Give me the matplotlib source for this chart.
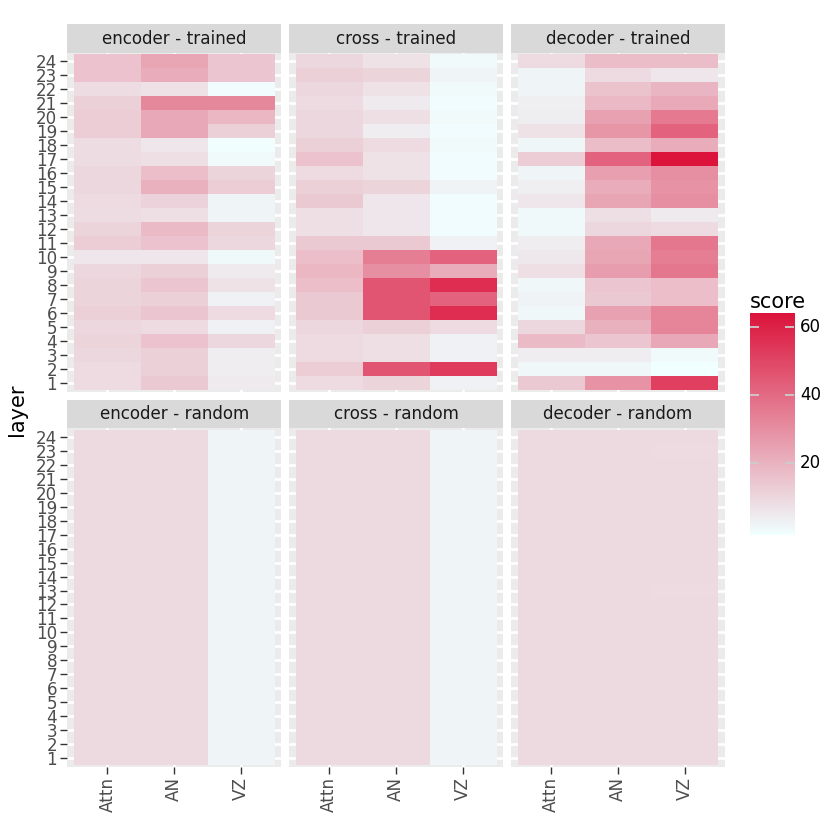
import numpy as np
import matplotlib
matplotlib.use("Agg")
import matplotlib.pyplot as plt
from matplotlib.colors import LinearSegmentedColormap

# ---------------- data ----------------
layers = list(range(1, 25))
features = ["Attn", "AN", "VZ"]
panel_titles = ["encoder - trained", "cross - trained", "decoder - trained",
                "encoder - random", "cross - random", "decoder - random"]

# values listed from layer 1 to layer 24
enc_tr_attn = [9, 9, 10, 11, 10, 12, 11, 11, 10, 6, 13, 11, 8.5, 9, 10, 10, 8.5, 8.5, 13, 13, 12, 8.5, 16, 16]
enc_tr_an   = [14, 12, 12, 16, 9, 15, 12, 15, 12, 6, 16, 18, 8, 11.5, 21, 17, 8, 6, 23, 23, 32, 7, 22, 24]
enc_tr_vz   = [5, 4, 4, 10, 3, 9, 3, 7, 5, 1, 10, 11, 2, 2, 13, 11, 0.5, -0.5, 12, 19, 32, 0, 15, 15]

cro_tr_attn = [9, 13, 9, 9, 10, 14, 14, 17, 19, 17, 14, 8, 8, 14, 12, 9, 16, 12, 10, 10, 9, 10, 12, 10]
cro_tr_an   = [11, 46, 8, 8, 12, 46, 46, 46, 30, 35, 14, 6, 6, 6, 11, 7, 7, 9, 4, 8, 5, 7, 11, 7]
cro_tr_vz   = [3, 53, 3, 3, 9, 57, 42, 57, 22, 42, 3, 0, 0, 0, 2.5, 0, 0, 0.5, 0, 0.5, 0, 0.5, 2, 0.5]

dec_tr_attn = [14, 1.5, 4, 18, 10, 1.5, 2.5, 1.5, 8, 5.5, 4, 1, 1, 6, 3.4, 2, 13, 1.6, 7, 4.3, 3.4, 2, 2, 9]
dec_tr_an   = [29, 1.5, 4, 15, 21, 25, 14, 15, 26, 24, 23, 10, 8, 24, 22, 25.5, 42, 17.5, 28, 25, 18.5, 15.6, 9, 17.5]
dec_tr_vz   = [52, -1, 0.5, 23, 33, 33, 17, 17, 37, 35, 37, 9, 5, 30, 29, 30, 64, 22, 42, 36, 22.8, 19.5, 6, 17.5]

enc_rd_attn = [9.5] * 24
enc_rd_an   = [9.5] * 24
enc_rd_vz   = [2] * 24

cro_rd_attn = [9.5] * 24
cro_rd_an   = [9.5] * 24
cro_rd_vz   = [2] * 24

dec_rd_attn = [9.5] * 24
dec_rd_an   = [9.5] * 24
dec_rd_vz   = [9.5, 9.5, 9.5, 9.5, 9.5, 9.5, 9.5, 9.5, 9.5, 9.5, 9.5, 9.5, 9, 9.5, 9.5, 9.5,
               9.5, 9.5, 9.5, 9.5, 9.5, 9.5, 9, 9.5]

panels = [
    [enc_tr_attn, enc_tr_an, enc_tr_vz],
    [cro_tr_attn, cro_tr_an, cro_tr_vz],
    [dec_tr_attn, dec_tr_an, dec_tr_vz],
    [enc_rd_attn, enc_rd_an, enc_rd_vz],
    [cro_rd_attn, cro_rd_an, cro_rd_vz],
    [dec_rd_attn, dec_rd_an, dec_rd_vz],
]

# ---------------- colour scale ----------------
cmap = LinearSegmentedColormap.from_list("azure_crimson", ["#F0FFFF", "#DC143C"], N=256)

allv = np.concatenate([np.ravel(p) for p in panels])
vmin, vmax = allv.min(), allv.max()

# ---------------- figure ----------------
W = H = 830
fig = plt.figure(figsize=(8.3, 8.3), dpi=100)


def px_axes(x0, y0, x1, y1):
    return fig.add_axes([x0 / W, 1 - y1 / H, (x1 - x0) / W, (y1 - y0) / H])


col_x = [67.3, 289.2, 511.0]
pw = 214.0
rows = [(24.3, 52.7, 391.7), (400.0, 428.3, 766.7)]

xe = np.arange(0.5, 3.6, 1.0)
ye = np.arange(0.5, 24.6, 1.0)

for i, (title, pdata) in enumerate(zip(panel_titles, panels)):
    r, c = divmod(i, 3)
    st, pt, pb = rows[r]
    x0 = col_x[c]
    # strip
    sax = px_axes(x0, st, x0 + pw, pt)
    sax.set_facecolor("#D9D9D9")
    sax.set_xticks([]); sax.set_yticks([])
    for s in sax.spines.values():
        s.set_visible(False)
    sax.text(0.5, 0.5, title, ha="center", va="center", fontsize=12.1,
             color="#1A1A1A", transform=sax.transAxes)
    # panel
    ax = px_axes(x0, pt, x0 + pw, pb)
    ax.set_facecolor("#EBEBEB")
    for s in ax.spines.values():
        s.set_visible(False)
    Z = np.array(pdata).T  # (24, 3)
    ax.pcolormesh(xe, ye, Z, cmap=cmap, vmin=vmin, vmax=vmax,
                  shading="flat", edgecolors="face", linewidth=0, zorder=2)
    ax.set_xlim(0.4, 3.6)
    ax.set_ylim(0.4, 24.6)
    ax.set_xticks([1, 2, 3])
    ax.set_yticks(layers)
    ax.set_axisbelow(True)
    ax.grid(True, color="white", linewidth=1.9, zorder=0)
    ax.tick_params(axis="both", color="#333333", length=5.3, width=1.0,
                   labelcolor="#4D4D4D", labelsize=12.1, pad=2)
    if c == 0:
        ax.set_yticklabels([str(v) for v in layers])
    else:
        ax.tick_params(axis="y", length=0, labelleft=False)
    if r == 1:
        ax.set_xticklabels(features, rotation=90)
    else:
        ax.tick_params(axis="x", length=0, labelbottom=False)

# y label
fig.text(17 / W, 1 - 409.7 / H, "layer", rotation=90, ha="center", va="center",
         fontsize=15, color="black")

# colour bar
cax = px_axes(750, 313.3, 794.3, 535)
grad = np.linspace(vmin, vmax, 300).reshape(-1, 1)
cax.imshow(grad, cmap=cmap, vmin=vmin, vmax=vmax, aspect="auto",
           origin="lower", extent=[0, 1, vmin, vmax], interpolation="bilinear")
cax.set_xlim(0, 1)
cax.set_ylim(vmin, vmax)
cax.set_xticks([])
cax.set_yticks([])
for s in cax.spines.values():
    s.set_visible(False)
cbar_ticks = [20, 40, 60]
for tv in cbar_ticks:
    cax.plot([0, 0.2], [tv, tv], color="#CCCCCC", linewidth=1.3, solid_capstyle="butt")
    cax.plot([0.8, 1.0], [tv, tv], color="#CCCCCC", linewidth=1.3, solid_capstyle="butt")
    cax.text(1.13, tv, str(tv), ha="left", va="center", fontsize=12,
             color="black", transform=cax.get_yaxis_transform())
fig.text(750 / W, 1 - 308 / H, "score", ha="left", va="baseline", fontsize=15,
         color="black")

fig.savefig("out.png", dpi=100, facecolor="white")
